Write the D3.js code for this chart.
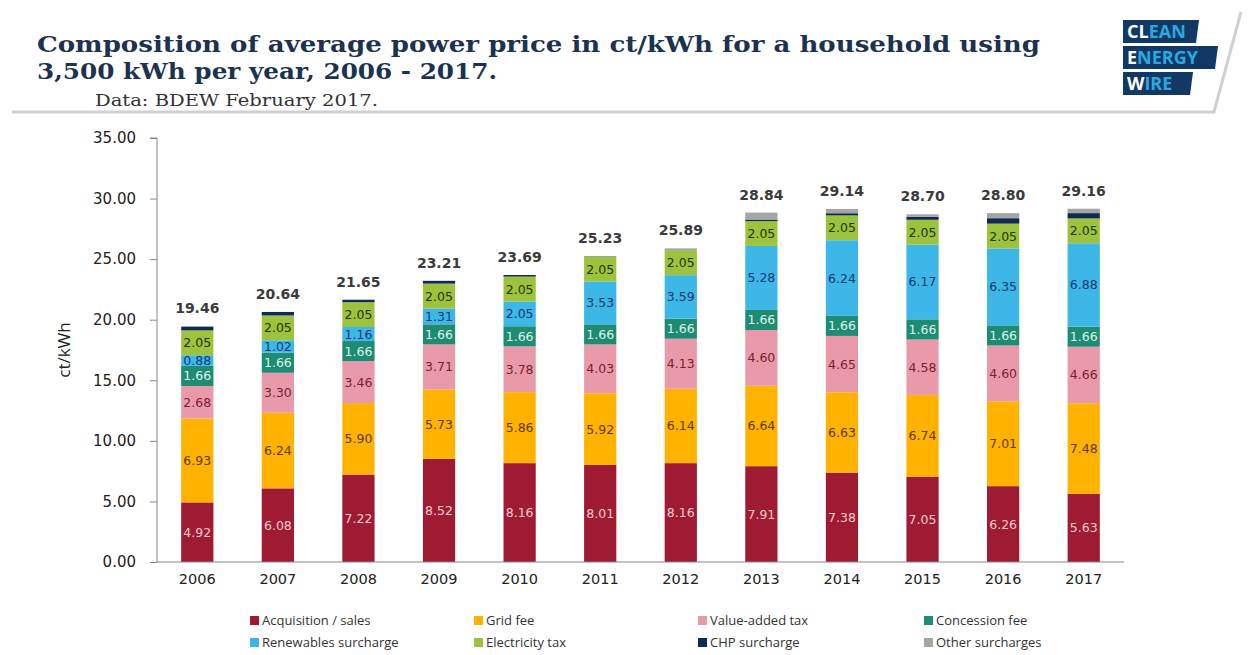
<!DOCTYPE html>
<html>
<head>
<meta charset="utf-8">
<script src="https://cdn.jsdelivr.net/npm/d3@7"></script>
<style>
  body { margin: 0; background: #ffffff; }
  svg { display: block; }
</style>
</head>
<body>
<div id="chart"></div>
<script>
// data (ct/kWh), BDEW February 2017
var years = ["2006","2007","2008","2009","2010","2011","2012","2013","2014","2015","2016","2017"];
var acquisition = [4.92, 6.08, 7.22, 8.52, 8.16, 8.01, 8.16, 7.91, 7.38, 7.05, 6.26, 5.63];
var gridFee     = [6.93, 6.24, 5.90, 5.73, 5.86, 5.92, 6.14, 6.64, 6.63, 6.74, 7.01, 7.48];
var vat         = [2.68, 3.30, 3.46, 3.71, 3.78, 4.03, 4.13, 4.60, 4.65, 4.58, 4.60, 4.66];
var concession  = [1.66, 1.66, 1.66, 1.66, 1.66, 1.66, 1.66, 1.66, 1.66, 1.66, 1.66, 1.66];
var renewables  = [0.88, 1.02, 1.16, 1.31, 2.05, 3.53, 3.59, 5.28, 6.24, 6.17, 6.35, 6.88];
var elecTax     = [2.05, 2.05, 2.05, 2.05, 2.05, 2.05, 2.05, 2.05, 2.05, 2.05, 2.05, 2.05];
var chp         = [0.31, 0.29, 0.20, 0.23, 0.13, 0.03, 0.01, 0.13, 0.18, 0.25, 0.45, 0.44];
var other       = [0.03, 0.00, 0.00, 0.00, 0.00, 0.00, 0.15, 0.57, 0.35, 0.20, 0.42, 0.36];
var totals      = [19.46, 20.64, 21.65, 23.21, 23.69, 25.23, 25.89, 28.84, 29.14, 28.70, 28.80, 29.16];
var yTicks = [0, 5, 10, 15, 20, 25, 30, 35];

var series = [
  {name: "Acquisition / sales",   values: acquisition, color: "#9e1b32", text: "#f6c9d3", label: true},
  {name: "Grid fee",              values: gridFee,     color: "#ffb300", text: "#5b3b00", label: true},
  {name: "Value-added tax",       values: vat,         color: "#e99aaa", text: "#7d1d30", label: true},
  {name: "Concession fee",        values: concession,  color: "#1e8c72", text: "#dff3ec", label: true},
  {name: "Renewables surcharge",  values: renewables,  color: "#3db6e8", text: "#173a6e", label: true},
  {name: "Electricity tax",       values: elecTax,     color: "#9cc33b", text: "#26340c", label: true},
  {name: "CHP surcharge",         values: chp,         color: "#0e2a52", text: "#fff",    label: false},
  {name: "Other surcharges",      values: other,       color: "#a5a5a5", text: "#fff",    label: false}
];

var W = 1248, H = 655;
var svg = d3.select("#chart").append("svg")
  .attr("width", W)
  .attr("height", H);

// header card shadow
svg.append("path")
  .attr("d", "M12,112 L1214,112 L1241,12")
  .attr("fill", "none")
  .attr("stroke", "#d0d0d0")
  .attr("stroke-width", 3);

// title
var title = svg.append("g").attr("fill", "#1b3250")
  .style("font-family", "'DejaVu Serif', serif")
  .style("font-weight", "bold")
  .style("font-size", "23px");
title.append("text").attr("x", 37).attr("y", 52)
  .attr("textLength", 1003).attr("lengthAdjust", "spacingAndGlyphs")
  .text("Composition of average power price in ct/kWh for a household using");
title.append("text").attr("x", 37).attr("y", 79)
  .attr("textLength", 460).attr("lengthAdjust", "spacingAndGlyphs")
  .text("3,500 kWh per year, 2006 - 2017.");
svg.append("text").attr("x", 95).attr("y", 106)
  .style("font-family", "'DejaVu Serif', serif")
  .style("font-size", "17px")
  .attr("textLength", 283).attr("lengthAdjust", "spacingAndGlyphs")
  .attr("fill", "#333")
  .text("Data: BDEW February 2017.");

// logo
var logo = [
  {first: "CL", rest: "EAN",   y: 20, w: 74},
  {first: "E",  rest: "NERGY", y: 46, w: 93},
  {first: "W",  rest: "IRE",   y: 72, w: 68}
];
var lg = svg.append("g");
logo.forEach(function(d){
  lg.append("path")
    .attr("d", "M1123," + d.y + " L" + (1123 + d.w + 2) + "," + d.y + " L" + (1123 + d.w - 1) + "," + (d.y + 23) + " L1123," + (d.y + 23) + "Z")
    .attr("fill", "#123866");
  var t = lg.append("text").attr("x", 1127).attr("y", d.y + 18)
    .style("font-family", "'Open Sans', sans-serif")
    .style("font-weight", "bold")
    .style("font-size", "18px");
  t.append("tspan").attr("fill", "#ffffff").text(d.first);
  t.append("tspan").attr("fill", "#2aa9e1").text(d.rest);
});

// chart area
var x0 = 157, x1 = 1124, yBase = 562, yTop = 138;
var x = d3.scaleBand().domain(years).range([x0, x1]).paddingInner(0.6).paddingOuter(0.3);
var y = d3.scaleLinear().domain([0, 35]).range([yBase, yTop]);

var table = years.map(function(yr, i){
  var row = {year: yr};
  series.forEach(function(s){ row[s.name] = s.values[i]; });
  return row;
});
var stack = d3.stack().keys(series.map(function(s){ return s.name; }))(table);

// y axis
var yAxis = svg.append("g")
  .attr("transform", "translate(" + x0 + ",0)")
  .call(d3.axisLeft(y).tickValues(yTicks).tickFormat(d3.format(".2f")).tickSize(7).tickPadding(14));
yAxis.select(".domain").attr("stroke", "#888").attr("d", "M-7," + yTop + "H0V" + yBase);
yAxis.selectAll(".tick line").attr("stroke", "#888");
yAxis.selectAll(".tick text")
  .attr("fill", "#222")
  .style("font-family", "'DejaVu Sans', sans-serif")
  .style("font-size", "15px");

svg.append("text")
  .attr("transform", "translate(70," + ((yTop + yBase) / 2) + ") rotate(-90)")
  .attr("text-anchor", "middle")
  .style("font-family", "'Open Sans', sans-serif")
  .style("font-size", "17px")
  .attr("fill", "#222")
  .text("ct/kWh");

// bars
var layers = svg.selectAll(".layer")
  .data(stack)
  .enter().append("g")
  .attr("class", "layer")
  .attr("fill", function(d, i){ return series[i].color; });

layers.selectAll("rect")
  .data(function(d){ return d; })
  .enter().append("rect")
  .attr("x", function(d){ return x(d.data.year); })
  .attr("y", function(d){ return y(d[1]); })
  .attr("width", x.bandwidth())
  .attr("height", function(d){ return y(d[0]) - y(d[1]); });

// segment labels
stack.forEach(function(layer, i){
  if (!series[i].label) return;
  svg.append("g").selectAll("text")
    .data(layer)
    .enter().append("text")
    .attr("x", function(d){ return x(d.data.year) + x.bandwidth() / 2; })
    .attr("y", function(d){ return (y(d[0]) + y(d[1])) / 2 + 4.5; })
    .attr("text-anchor", "middle")
    .attr("fill", series[i].text)
    .style("font-family", "'DejaVu Sans', sans-serif")
    .style("font-size", "12.5px")
    .text(function(d){ return (d[1] - d[0]).toFixed(2); });
});

// total labels
svg.append("g").selectAll("text")
  .data(years)
  .enter().append("text")
  .attr("x", function(d){ return x(d) + x.bandwidth() / 2; })
  .attr("y", function(d, i){ return y(totals[i]) - 13; })
  .attr("text-anchor", "middle")
  .attr("fill", "#3a3a3a")
  .style("font-family", "'DejaVu Sans', sans-serif")
  .style("font-weight", "bold")
  .style("font-size", "14px")
  .text(function(d, i){ return totals[i].toFixed(2); });

// x axis
var xAxis = svg.append("g")
  .attr("transform", "translate(0," + yBase + ")")
  .call(d3.axisBottom(x).tickSize(0).tickPadding(12));
xAxis.select(".domain").attr("stroke", "#888").attr("d", "M" + x0 + ",0H" + x1);
xAxis.selectAll(".tick text")
  .attr("fill", "#222")
  .style("font-family", "'DejaVu Sans', sans-serif")
  .style("font-size", "14.5px");

// legend
var legCols = [250, 474, 698, 924];
var leg = svg.append("g").selectAll("g")
  .data(series)
  .enter().append("g")
  .attr("transform", function(d, i){ return "translate(" + legCols[i % 4] + "," + (616 + Math.floor(i / 4) * 22) + ")"; });
leg.append("rect").attr("width", 9).attr("height", 9).attr("fill", function(d){ return d.color; });
leg.append("text")
  .attr("x", 12).attr("y", 9)
  .attr("fill", "#333")
  .style("font-family", "'Open Sans', sans-serif")
  .style("font-size", "13px")
  .text(function(d){ return d.name; });
</script>
</body>
</html>
